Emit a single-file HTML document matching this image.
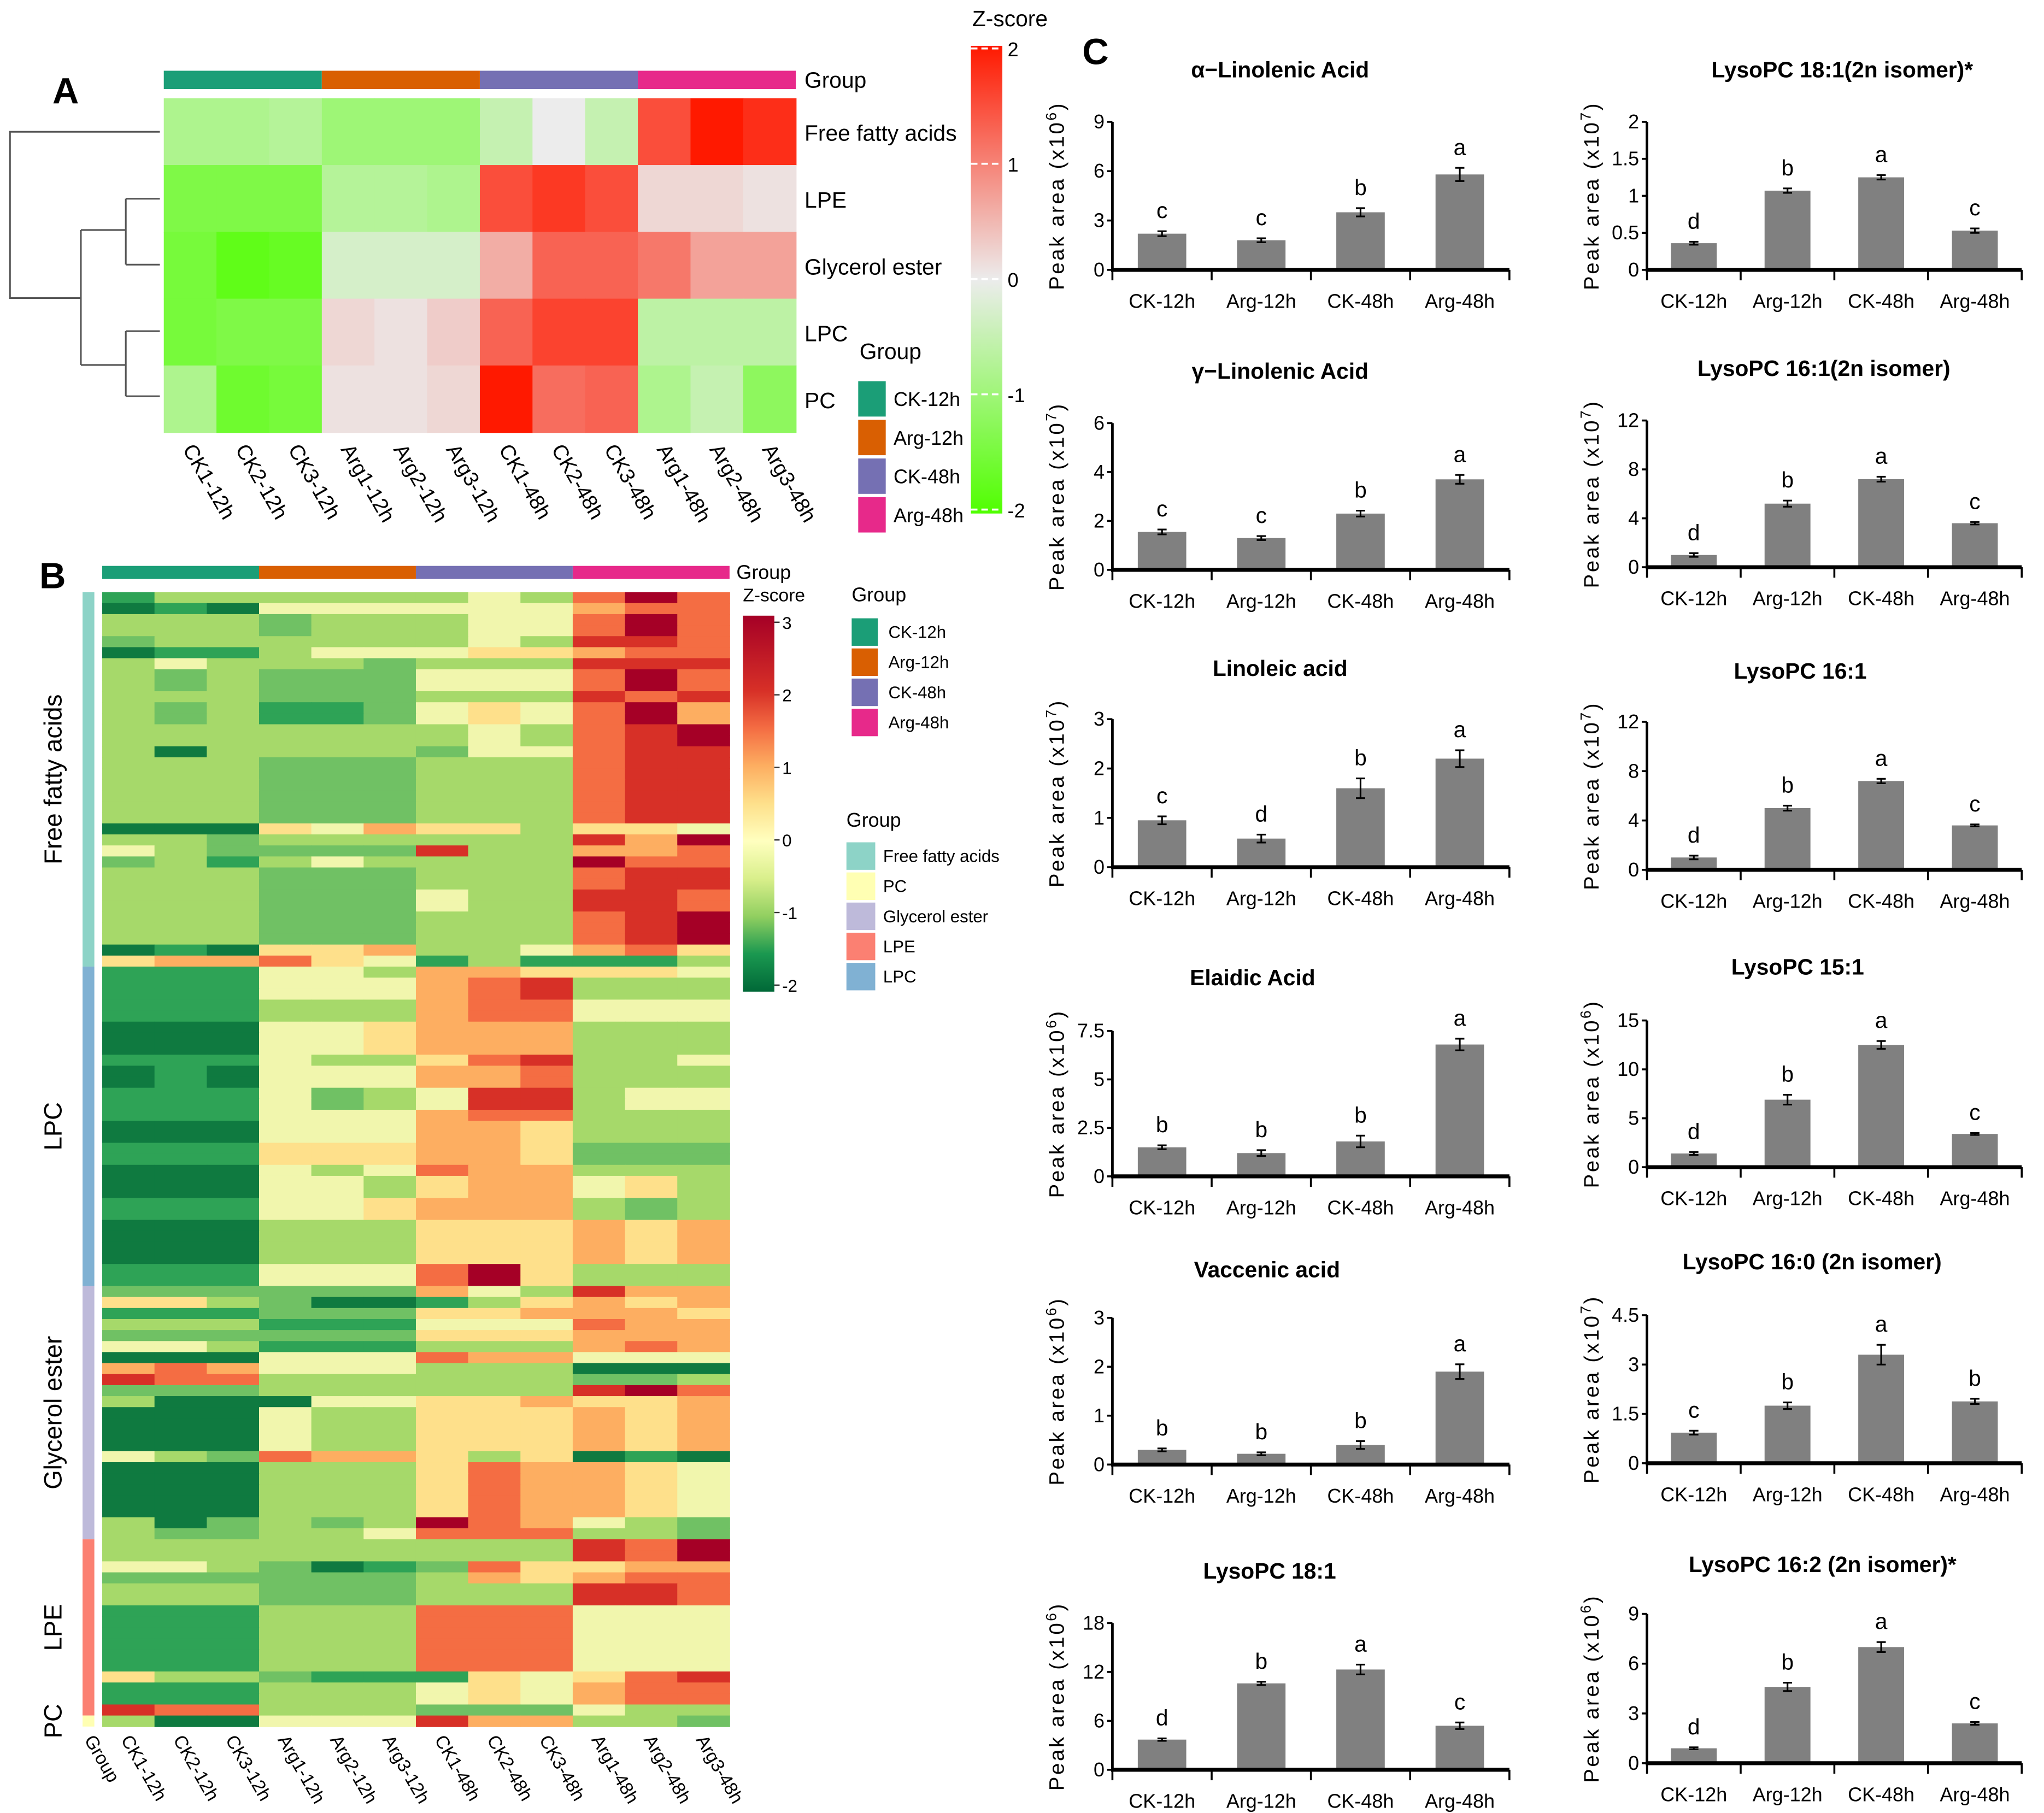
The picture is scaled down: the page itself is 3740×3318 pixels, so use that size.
<!DOCTYPE html>
<html><head><meta charset="utf-8"><style>
html,body{margin:0;padding:0;background:#fff;}
svg{display:block;font-family:"Liberation Sans",sans-serif;}
</style></head><body>
<svg id="fig" xmlns="http://www.w3.org/2000/svg" width="3740" height="3318" viewBox="0 0 1560 1384">
<rect width="1560" height="1384" fill="#fff"/>
<text x="40" y="79" font-size="28" font-weight="bold">A</text>
<text x="30" y="449" font-size="28" font-weight="bold">B</text>
<text x="826" y="49" font-size="28" font-weight="bold">C</text>
<g id="pa"></g>
<g id="pb"></g>
<g id="pc"></g>
</svg>
<script>
// ---------- data ----------
const groupNames = ["CK-12h","Arg-12h","CK-48h","Arg-48h"];
const groupColors = ["#1b9e77","#d95f02","#7570b3","#e7298a"];
const sampleLabels = ["CK1-12h","CK2-12h","CK3-12h","Arg1-12h","Arg2-12h","Arg3-12h","CK1-48h","CK2-48h","CK3-48h","Arg1-48h","Arg2-48h","Arg3-48h"];
// Panel A
const aRows = ["Free fatty acids","LPE","Glycerol ester","LPC","PC"];
const aFFA = [-0.8,-0.8,-0.7,-1,-1,-1,-0.5,0,-0.5,1.5,2,1.8];
const aLPE = [-1.4,-1.4,-1.4,-0.7,-0.7,-0.8,1.5,1.7,1.5,0.2,0.2,0.1];
const aGly = [-1.5,-1.8,-1.7,-0.3,-0.3,-0.3,0.6,1.3,1.3,1.1,0.7,0.7];
const aLPC = [-1.5,-1.4,-1.4,0.2,0.1,0.3,1.3,1.6,1.6,-0.6,-0.6,-0.6];
const aPC  = [-0.8,-1.6,-1.5,0.1,0.1,0.2,2,1.2,1.3,-0.8,-0.5,-1.2];
const aTicks = [2,1,0,-1,-2];
// Panel B: level codes -> z
const bLevelZ = [-2,-1.5,-1,-0.5,0,0.5,1,1.5,2,3];
const bLevelColor = ["#0f7a40","#2ea356","#70c164","#a6d96a","#f1f6ad","#fee08b","#fdae61","#f46d43","#d73027","#a50026"];
const bFFA = [[1,"133333343797"],[1,"010444444677"],[2,"333233344797"],[1,"233333343887"],[1,"011344455677"],[1,"343332333888"],[2,"323222444797"],[1,"333222333878"],[2,"323112454796"],[2,"333333343789"],[1,"303333244788"],[6,"333222333788"],[1,"000546553554"],[1,"332333333869"],[1,"432222833667"],[1,"231343333977"],[2,"333222333788"],[2,"333222433887"],[3,"333222333789"],[1,"010556334675"],[1,"566754131113"]];
const bLPC = [[1,"111443665554"],[2,"111444678333"],[2,"111333677444"],[3,"000445666333"],[1,"111433578334"],[2,"010444667333"],[2,"111423488344"],[1,"111444677333"],[2,"000444665333"],[2,"111555665222"],[1,"000434766333"],[2,"000443566453"],[2,"111445666323"],[4,"000333555656"],[2,"111444795333"]];
const bGly = [[1,"222222643866"],[1,"553200135656"],[1,"111222556665"],[1,"333111444766"],[1,"222222555666"],[1,"443111333676"],[1,"000444766444"],[1,"676444333000"],[1,"877333333223"],[1,"222333333897"],[1,"300044556556"],[4,"000433555656"],[1,"432766535010"],[5,"000333576654"],[1,"302323976432"],[1,"322334777332"]];
const bLPE = [[2,"333333333879"],[1,"443201275566"],[1,"222222365677"],[2,"333222333887"],[6,"111333777444"],[1,"533211154578"],[2,"111333454677"],[1,"877333222433"]];
const bPC = [[1,"300444866332"]];
const bClassNames = ["Free fatty acids","LPC","Glycerol ester","LPE","PC"];
const bClassColors = ["#8dd3c7","#80b1d3","#bebada","#fb8072","#ffffb3"];
const bTicks = [3,2,1,0,-1,-2];
// Panel C
const cTitles = ["α−Linolenic Acid","LysoPC 18:1(2n isomer)*","γ−Linolenic Acid","LysoPC 16:1(2n isomer)","Linoleic acid","LysoPC 16:1","Elaidic Acid","LysoPC 15:1","Vaccenic acid","LysoPC 16:0 (2n isomer)","LysoPC 18:1","LysoPC 16:2 (2n isomer)*"];
const cValues = [[2.2,1.8,3.5,5.8],[0.36,1.07,1.25,0.53],[1.55,1.3,2.3,3.7],[1.0,5.2,7.2,3.6],[0.95,0.58,1.6,2.2],[1.0,5.0,7.2,3.6],[1.5,1.2,1.8,6.8],[1.4,6.9,12.5,3.4],[0.3,0.22,0.4,1.9],[0.93,1.75,3.3,1.88],[3.7,10.6,12.3,5.4],[0.9,4.6,7.0,2.4]];
const cErrors = [[0.15,0.12,0.25,0.4],[0.02,0.03,0.03,0.03],[0.1,0.08,0.12,0.18],[0.15,0.25,0.2,0.1],[0.08,0.08,0.2,0.17],[0.15,0.2,0.18,0.08],[0.1,0.15,0.3,0.3],[0.15,0.5,0.4,0.1],[0.03,0.03,0.08,0.15],[0.06,0.1,0.3,0.08],[0.15,0.2,0.6,0.4],[0.06,0.25,0.3,0.08]];
const cLetters = [["c","c","b","a"],["d","b","a","c"],["c","c","b","a"],["d","b","a","c"],["c","d","b","a"],["d","b","a","c"],["b","b","b","a"],["d","b","a","c"],["b","b","b","a"],["c","b","a","b"],["d","b","a","c"],["d","b","a","c"]];
const cTickLabels = [["0","3","6","9"],["0","0.5","1","1.5","2"],["0","2","4","6"],["0","4","8","12"],["0","1","2","3"],["0","4","8","12"],["0","2.5","5","7.5"],["0","5","10","15"],["0","1","2","3"],["0","1.5","3","4.5"],["0","6","12","18"],["0","3","6","9"]];
const cExponents = ["6","7","7","7","7","7","6","6","6","7","6","6"];
const cCategories = ["CK-12h","Arg-12h","CK-48h","Arg-48h"];

// ---------- helpers ----------
const NS = "http://www.w3.org/2000/svg";
function mk(tag, attrs, parent){const e=document.createElementNS(NS,tag);for(const k in attrs)e.setAttribute(k,attrs[k]);parent.appendChild(e);return e;}
function lerp(a,b,t){return a.map((v,i)=>Math.round(v+(b[i]-v)*t));}
function aColor(z){const g=[80,255,0],w=[236,236,236],r=[255,25,0];let c=z<0?lerp(w,g,Math.min(1,-z/2)):lerp(w,r,Math.min(1,z/2));return `rgb(${c})`;}

// ---------- Panel A ----------
const pa=document.getElementById('pa');
const aX0=125,aCW=40.2,aY0=75,aRH=51;
const aData=[aFFA,aLPE,aGly,aLPC,aPC];
groupColors.forEach((c,g)=>{const r=mk('rect',{x:aX0+g*3*aCW,y:54,width:3*aCW,height:14,fill:c},pa);

});
let t=mk('text',{x:614,y:67,'font-size':17},pa);t.textContent="Group";


aData.forEach((row,ri)=>{row.forEach((z,ci)=>{const r=mk('rect',{x:aX0+ci*aCW,y:aY0+ri*aRH,width:aCW+0.5,height:aRH+0.5,fill:aColor(z)},pa);

});
const l=mk('text',{x:614,y:aY0+ri*aRH+aRH/2+7,'font-size':17},pa);l.textContent=aRows[ri];

});
sampleLabels.forEach((s,i)=>{const x=aX0+i*aCW+aCW/2-6,y=343;const l=mk('text',{x:x,y:y,'font-size':16,transform:`rotate(60 ${x} ${y})`},pa);l.textContent=s;

});
const dend=mk('path',{d:"M122,100.6H7.6V227.5H61.7 M61.7,175.6V278.6 M61.7,175.6H96 M96,151.7V202 M96,151.7H122 M96,202H122 M61.7,278.6H96 M96,252.8V302.5 M96,252.8H122 M96,302.5H122",stroke:"#555",fill:"none",'stroke-width':1.3},pa);


t=mk('text',{x:656,y:274,'font-size':17},pa);t.textContent="Group";


groupNames.forEach((n,i)=>{const y=291+i*29.5;const r=mk('rect',{x:655,y:y,width:21,height:27,fill:groupColors[i]},pa);


const l=mk('text',{x:682,y:y+19,'font-size':15},pa);l.textContent=n;

});
const defs=mk('defs',{},document.getElementById('fig'));
const gA=mk('linearGradient',{id:'gA',x1:0,y1:0,x2:0,y2:1},defs);
[[0,2],[0.5,0],[1,-2]].forEach(s=>mk('stop',{offset:s[0],'stop-color':aColor(s[1])},gA));
const cbA=mk('rect',{x:741,y:35,width:24,height:357,fill:'url(#gA)'},pa);


t=mk('text',{x:742,y:20,'font-size':17},pa);t.textContent="Z-score";


aTicks.forEach(v=>{const y=213-v*88;mk('line',{x1:741,x2:765,y1:y,y2:y,stroke:'#fff','stroke-width':1.5,'stroke-dasharray':'5,3'},pa);
const l=mk('text',{x:769,y:y+6,'font-size':15},pa);l.textContent=v;

});

// ---------- Panel B ----------
const pb=document.getElementById('pb');
const bGroups=[bFFA,bLPC,bGly,bLPE,bPC];
const bX0=78,bCW=39.9,bY0=452,bH=866;
let total=0;bGroups.forEach(g=>g.forEach(r=>total+=r[0]));
const rh=bH/total;
groupColors.forEach((c,g)=>{const r=mk('rect',{x:bX0+g*3*bCW,y:432,width:3*bCW,height:10,fill:c},pb);

});
t=mk('text',{x:562,y:442,'font-size':15},pb);t.textContent="Group";


let yy=bY0;
bGroups.forEach((grp,gi)=>{const ys=yy;
grp.forEach(([n,codes])=>{for(let k=0;k<n;k++){for(let ci=0;ci<12;ci++){const lv=+codes[ci];
const r=mk('rect',{x:bX0+ci*bCW,y:yy,width:bCW+0.4,height:rh+0.4,fill:bLevelColor[lv],'data-z':bLevelZ[lv]},pb);

}
yy+=rh;}});
const sb=mk('rect',{x:63,y:ys,width:9,height:yy-ys,fill:bClassColors[gi]},pb);


const cy=(ys+yy)/2;const l=mk('text',{x:47,y:cy,'font-size':19,'text-anchor':'middle',transform:`rotate(-90 47 ${cy})`},pb);l.textContent=bClassNames[gi];

});
["Group"].concat(sampleLabels).forEach((s,i)=>{const x=i==0?64:bX0+(i-1)*bCW+bCW/2-6,y=1328;const l=mk('text',{x:x,y:y,'font-size':14,transform:`rotate(60 ${x} ${y})`},pb);l.textContent=s;

});
const gB=mk('linearGradient',{id:'gB',x1:0,y1:0,x2:0,y2:1},defs);
[[3,"#a50026"],[2,"#d73027"],[1.5,"#f46d43"],[1,"#fdae61"],[0.5,"#fee08b"],[0,"#ffffbf"],[-0.5,"#d9ef8b"],[-1,"#91cf60"],[-1.5,"#1a9850"],[-2,"#006837"]].forEach(s=>mk('stop',{offset:(3-s[0])/5,'stop-color':s[1]},gB));
const cbB=mk('rect',{x:567,y:470,width:24,height:287,fill:'url(#gB)'},pb);


t=mk('text',{x:567,y:459,'font-size':14},pb);t.textContent="Z-score";


bTicks.forEach(v=>{const y=475+(3-v)*55.4;mk('line',{x1:591,x2:595,y1:y,y2:y,stroke:'#333'},pb);
const l=mk('text',{x:597,y:y+5,'font-size':13},pb);l.textContent=v;

});
t=mk('text',{x:650,y:459,'font-size':15},pb);t.textContent="Group";


groupNames.forEach((n,i)=>{const y=472+i*23;const r=mk('rect',{x:650,y:y,width:20,height:21,fill:groupColors[i]},pb);


const l=mk('text',{x:678,y:y+15,'font-size':13},pb);l.textContent=n;

});
t=mk('text',{x:646,y:631,'font-size':15},pb);t.textContent="Group";


const legOrder=[0,4,2,3,1];
legOrder.forEach((gi,i)=>{const y=643+i*23;const r=mk('rect',{x:646,y:y,width:22,height:21,fill:bClassColors[gi]},pb);


const l=mk('text',{x:674,y:y+15,'font-size':13},pb);l.textContent=bClassNames[gi];

});

// ---------- Panel C ----------
const pc=document.getElementById('pc');
const layout=[[93,206,53],[93,206,53],[323,435,283],[321,433,281],[549,662,510],[551,664,512],[787,898,746],[779,891,738],[1006,1118,969],[1004,1117,963],[1239,1351,1199],[1232,1346,1194]];
const titleX=[977,1406,977,1392,977,1374,956,1372,967,1383,969,1391];
cTitles.forEach((title,k)=>{
 const g=mk('g',{},pc);
 
 
 const left=k%2==0;const x0=left?849:1257,x1=left?1152:1543;
 const [yT,yB,tY]=layout[k];const ticks=cTickLabels[k];const ymax=+ticks[ticks.length-1];
 const ys=v=>yB-(v/ymax)*(yB-yT);const band=(x1-x0)/4;const bw=left?37:35;
 let tt=mk('text',{x:titleX[k],y:tY+6,'font-size':17,'font-weight':'bold','text-anchor':'middle'},g);tt.textContent=title;
 
 
 cValues[k].forEach((v,i)=>{const cx=x0+band*(i+0.5);
  const r=mk('rect',{x:cx-bw/2,y:ys(v),width:bw,height:yB-ys(v),fill:'#808080'},g);
  
  
  const e=cErrors[k][i];const y1=ys(v+e),y2=ys(v-e);
  const eb=mk('path',{d:`M${cx},${y1}V${y2}M${cx-3.5},${y1}H${cx+3.5}M${cx-3.5},${y2}H${cx+3.5}`,stroke:'#000','stroke-width':1.3,fill:'none'},g);
  
  
  const lt=mk('text',{x:cx,y:y1-10,'font-size':17,'text-anchor':'middle'},g);lt.textContent=cLetters[k][i];
  
  
  const cl=mk('text',{x:cx,y:yB+29,'font-size':15,'text-anchor':'middle'},g);cl.textContent=cCategories[i];
  
  });
 mk('line',{x1:x0,x2:x0,y1:yT,y2:yB,stroke:'#000','stroke-width':2},g);
 mk('line',{x1:x0-1,x2:x1,y1:yB,y2:yB,stroke:'#000','stroke-width':3},g);
 for(let i=0;i<=4;i++){const x=x0+band*i;mk('line',{x1:x,x2:x,y1:yB,y2:yB+8,stroke:'#000','stroke-width':1.5},g);}
 ticks.forEach(tl=>{const y=ys(+tl);mk('line',{x1:x0-4,x2:x0,y1:y,y2:y,stroke:'#000','stroke-width':1.5},g);
  const l=mk('text',{x:x0-6,y:y+5,'font-size':15,'text-anchor':'end'},g);l.textContent=tl;
  
  });
 const yx=x0-37,yc=(yT+yB)/2;
 const yl=mk('text',{x:yx,y:yc,'font-size':16,'letter-spacing':1.5,'text-anchor':'middle',transform:`rotate(-90 ${yx} ${yc})`},g);
 
 
 yl.appendChild(document.createTextNode("Peak area  (x10"));
 const sp=mk('tspan',{'font-size':11,dy:-6},yl);sp.textContent=cExponents[k];
 const sp2=mk('tspan',{dy:6},yl);sp2.textContent=")";
});
</script>
</body></html>
